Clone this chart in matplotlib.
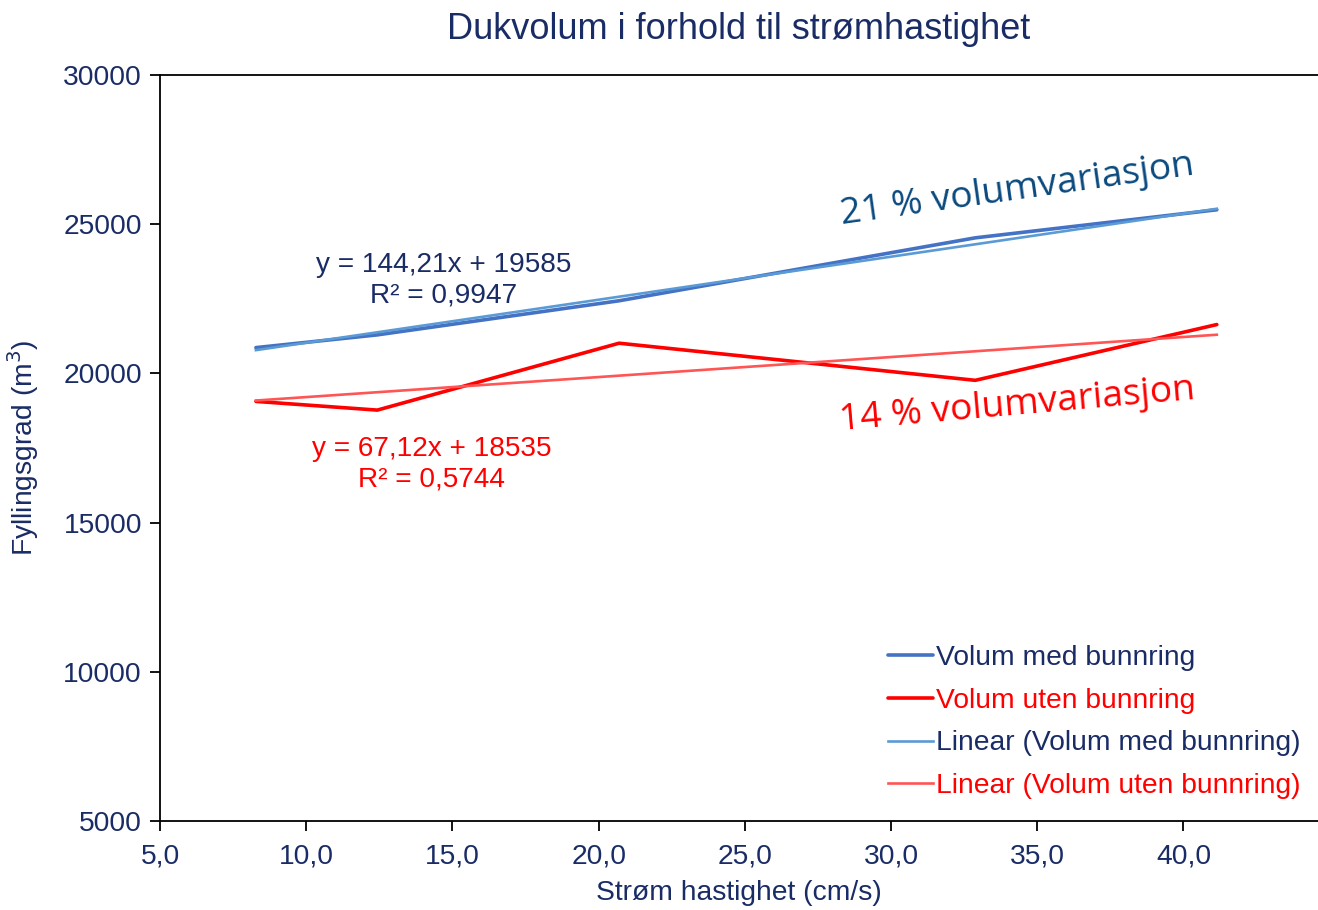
import matplotlib
matplotlib.use("Agg")

import matplotlib.pyplot as plt
import numpy as np

# hastighet (cm/s) og volum (m3)
hastighet = [8.28, 12.43, 20.7, 32.88, 41.14]
volum_med = [20864, 21291, 22434, 24543, 25484]
volum_uten = [19062, 18770, 21012, 19768, 21637]

# trendlinjer fra Excel
trend_med = (144.21, 19585)
trend_uten = (67.12, 18535)

x_ticks = [5, 10, 15, 20, 25, 30, 35, 40]
y_ticks = [5000, 10000, 15000, 20000, 25000, 30000]

navy = "#1A2C66"
blue = "#4472C4"
blue_light = "#5B9BD5"
red = "#FF0000"
red_light = "#FF5555"

plt.rcParams["font.family"] = ["Liberation Sans", "DejaVu Sans"]

fig = plt.figure(figsize=(13.18, 9.10), dpi=100)
ax = fig.add_axes([160 / 1318, 1 - 821 / 910, 1 - 160 / 1318, (821 - 75) / 910])

x = np.array(hastighet)
ax.plot(x, volum_med, color=blue, lw=2.6, label="Volum med bunnring", solid_capstyle="round")
ax.plot(x, volum_uten, color=red, lw=2.6, label="Volum uten bunnring", solid_capstyle="round")
ax.plot(x, trend_med[0] * x + trend_med[1], color=blue_light, lw=1.9,
        label="Linear (Volum med bunnring)")
ax.plot(x, trend_uten[0] * x + trend_uten[1], color=red_light, lw=1.9,
        label="Linear (Volum uten bunnring)")

ax.set_xlim(5, 44.6)
ax.set_ylim(5000, 30000)
ax.set_xticks(x_ticks)
ax.set_xticklabels([f"{t:.1f}".replace(".", ",") for t in x_ticks])
ax.set_yticks(y_ticks)
ax.tick_params(axis="both", labelsize=20.3, labelcolor=navy, length=7, width=1.3, direction="out")
ax.tick_params(axis="x", pad=9)
ax.tick_params(axis="y", pad=6)
for s in ["left", "bottom", "top"]:
    ax.spines[s].set_linewidth(1.3)
ax.spines["right"].set_visible(False)

ax.set_title("Dukvolum i forhold til strømhastighet", fontsize=26, color=navy, pad=26)
ax.set_xlabel("Strøm hastighet (cm/s)", fontsize=20.3, color=navy, labelpad=8)
ax.set_ylabel("Fyllingsgrad (m$^3$)", fontsize=20.3, color=navy, labelpad=16)

ax.text(14.7, 23130, "y = 144,21x + 19585\nR² = 0,9947", fontsize=20.2, color=navy,
        ha="center", va="center", multialignment="center", linespacing=1.25)
ax.text(14.3, 16950, "y = 67,12x + 18535\nR² = 0,5744", fontsize=20.2, color=red,
        ha="center", va="center", multialignment="center", linespacing=1.25)

ax.text(34.3, 26150, "21 % volumvariasjon", fontsize=26.8, color="#0B4A7E",
        family=["Open Sans", "DejaVu Sans"], ha="center", va="center", rotation=8,
        rotation_mode="anchor")
ax.text(34.3, 18940, "14 % volumvariasjon", fontsize=26.8, color=red,
        family=["Open Sans", "DejaVu Sans"], ha="center", va="center", rotation=5,
        rotation_mode="anchor")

leg = ax.legend(loc="lower right", bbox_to_anchor=(1.007, -0.005), frameon=False, fontsize=20.3,
                handlelength=1.6, handletextpad=0.1, labelspacing=0.6)
for txt, col in zip(leg.get_texts(), [navy, red, navy, red]):
    txt.set_color(col)

fig.savefig("out.png", dpi=100)
plt.close(fig)
